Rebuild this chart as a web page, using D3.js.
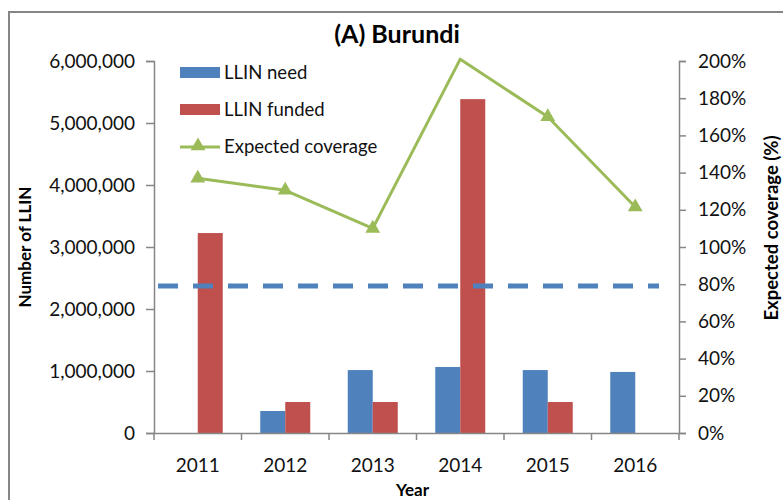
<!DOCTYPE html>
<html>
<head>
<meta charset="utf-8">
<script src="https://cdn.jsdelivr.net/npm/d3@7"></script>
<style>
  body { margin: 0; background: #fff; }
  svg { display: block; font-family: Lato, "Open Sans", sans-serif; }
</style>
</head>
<body>
<div class="container"></div>
<script>
var years = ["2011", "2012", "2013", "2014", "2015", "2016"];
var llinNeed = [0, 355000, 1015000, 1065000, 1015000, 985000];
var llinFunded = [3225000, 500000, 500000, 5385000, 500000, 0];
var expectedCoverage = [1.37, 1.305, 1.10, 2.01, 1.70, 1.215];
var targetCoverage = 0.79;
var leftTicks = [0, 1000000, 2000000, 3000000, 4000000, 5000000, 6000000];
var rightTicks = [0, 0.2, 0.4, 0.6, 0.8, 1.0, 1.2, 1.4, 1.6, 1.8, 2.0];
var seriesNames = ["LLIN need", "LLIN funded", "Expected coverage"];

var W = 783, H = 500;
var margin = {top: 61, right: 104, bottom: 67, left: 154},
    width = W - margin.left - margin.right,
    height = H - margin.top - margin.bottom;

var colors = {need: "#4F81BD", funded: "#C0504D", line: "#9BBB59", axis: "#868686"};

var svg = d3.select(".container")
  .append("svg")
  .attr("width", W)
  .attr("height", H);

/* ===== frame ===== */
svg.append("path")
  .attr("d", "M9," + H + "V12H" + W)
  .attr("fill", "none")
  .attr("stroke", colors.axis)
  .attr("stroke-width", 2);

var g = svg.append("g")
  .attr("transform", "translate(" + margin.left + "," + margin.top + ")");

/* ===== scales ===== */
var x = d3.scaleBand().domain(years).range([0, width]);
var xs = d3.scaleBand().domain(["need", "funded"]).range([0, x.bandwidth()])
  .paddingInner(0).paddingOuter(0.75);
var yL = d3.scaleLinear().domain([0, 6000000]).range([height, 0]);
var yR = d3.scaleLinear().domain([0, 2]).range([height, 0]);

/* ===== bars ===== */
var rows = years.map(function(d, i) {
  return {year: d, need: llinNeed[i], funded: llinFunded[i], cov: expectedCoverage[i]};
});

var groups = g.selectAll(".yr")
  .data(rows)
  .enter()
  .append("g")
  .attr("class", "yr")
  .attr("transform", function(d) { return "translate(" + x(d.year) + ",0)"; });

["need", "funded"].forEach(function(k) {
  groups.filter(function(d) { return d[k] > 0; })
    .append("rect")
    .attr("x", xs(k))
    .attr("width", xs.bandwidth())
    .attr("y", function(d) { return yL(d[k]); })
    .attr("height", function(d) { return height - yL(d[k]); })
    .attr("fill", colors[k]);
});

/* ===== axes ===== */
var fmt = d3.format(",");
var axL = g.append("g")
  .call(d3.axisLeft(yL).tickValues(leftTicks).tickSize(8).tickPadding(11)
    .tickFormat(function(d) { return fmt(d); }));
var axR = g.append("g")
  .attr("transform", "translate(" + width + ",0)")
  .call(d3.axisRight(yR).tickValues(rightTicks).tickSize(7).tickPadding(12)
    .tickFormat(d3.format(".0%")));
var axB = g.append("g")
  .attr("transform", "translate(0," + height + ")")
  .call(d3.axisBottom(x).tickSize(0).tickPadding(26));

[axL, axR, axB].forEach(function(a) {
  a.select(".domain").attr("stroke", colors.axis).attr("stroke-width", 1.5);
  a.selectAll(".tick line").attr("stroke", colors.axis).attr("stroke-width", 1.5);
  a.selectAll("text").attr("font-size", "19px").attr("fill", "#111")
    .attr("font-family", "Lato, sans-serif");
});

// category boundary ticks
g.append("g").selectAll("line")
  .data(years.concat(["end"]))
  .enter()
  .append("line")
  .attr("x1", function(d, i) { return i < years.length ? x(d) : width; })
  .attr("x2", function(d, i) { return i < years.length ? x(d) : width; })
  .attr("y1", height)
  .attr("y2", height + 7)
  .attr("stroke", colors.axis)
  .attr("stroke-width", 1.5);

/* ===== target dashed line ===== */
g.append("line")
  .attr("x1", 4)
  .attr("x2", width - 20)
  .attr("y1", yR(targetCoverage))
  .attr("y2", yR(targetCoverage))
  .attr("stroke", colors.need)
  .attr("stroke-width", 5)
  .attr("stroke-dasharray", "20,15");

/* ===== coverage line ===== */
var cx = function(d) { return x(d.year) + x.bandwidth() / 2; };
g.append("path")
  .datum(rows)
  .attr("fill", "none")
  .attr("stroke", colors.line)
  .attr("stroke-width", 3)
  .attr("stroke-linejoin", "round")
  .attr("d", d3.line().x(cx).y(function(d) { return yR(Math.min(d.cov, 2.01)); }));

// markers outside the axis range are not drawn
g.append("g")
  .selectAll("path")
  .data(rows.filter(function(d) { return d.cov <= yR.domain()[1]; }))
  .enter()
  .append("path")
  .attr("d", d3.symbol().type(d3.symbolTriangle).size(95))
  .attr("transform", function(d) { return "translate(" + cx(d) + "," + yR(d.cov) + ")"; })
  .attr("fill", colors.line);

/* ===== labels ===== */
svg.append("text")
  .attr("x", 397).attr("y", 43)
  .attr("text-anchor", "middle")
  .attr("font-size", "25px").attr("font-weight", "bold")
  .text("(A) Burundi");

svg.append("text")
  .attr("x", margin.left + width / 2 - 4).attr("y", 496)
  .attr("text-anchor", "middle")
  .attr("font-size", "17px").attr("font-weight", "bold")
  .text("Year");

svg.append("text")
  .attr("transform", "translate(31,247) rotate(-90)")
  .attr("text-anchor", "middle")
  .attr("font-size", "17px").attr("font-weight", "bold")
  .text("Number of LLIN");

svg.append("text")
  .attr("transform", "translate(778,228) rotate(-90)")
  .attr("text-anchor", "middle")
  .attr("font-size", "18.5px").attr("font-weight", "bold")
  .text("Expected coverage (%)");

/* ===== legend ===== */
var legend = svg.append("g").attr("transform", "translate(180,67)");
var items = legend.selectAll("g")
  .data(seriesNames)
  .enter()
  .append("g")
  .attr("transform", function(d, i) { return "translate(0," + (i * 37) + ")"; });

items.filter(function(d, i) { return i < 2; })
  .append("rect")
  .attr("width", 40).attr("height", 11)
  .attr("fill", function(d, i) { return i === 0 ? colors.need : colors.funded; });

var lineItem = items.filter(function(d, i) { return i === 2; });
lineItem.append("line")
  .attr("x1", 0).attr("x2", 40).attr("y1", 6).attr("y2", 6)
  .attr("stroke", colors.line).attr("stroke-width", 3);
lineItem.append("path")
  .attr("d", d3.symbol().type(d3.symbolTriangle).size(95))
  .attr("transform", "translate(18,5)")
  .attr("fill", colors.line);

items.append("text")
  .attr("x", 44).attr("y", 12)
  .attr("font-size", "18.5px")
  .attr("fill", "#111")
  .text(function(d) { return d; });
</script>
</body>
</html>
